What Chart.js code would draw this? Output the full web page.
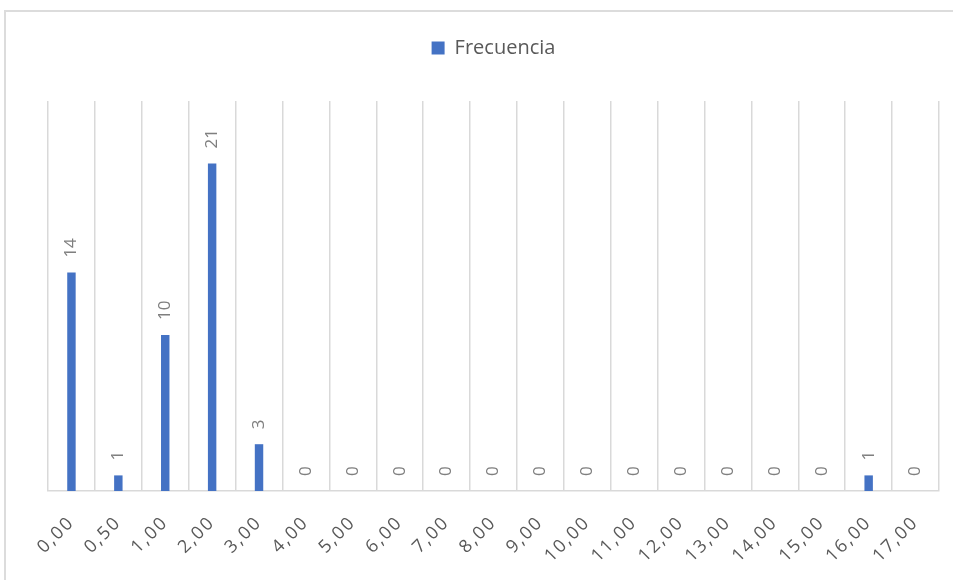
<!DOCTYPE html>
<html>
<head>
<meta charset="utf-8">
<script src="https://cdn.jsdelivr.net/npm/chart.js@4"></script>
<style>
  html, body { margin: 0; padding: 0; background: #fff; overflow: hidden; }
  #wrap { position: relative; width: 953px; height: 580px; overflow: hidden; }
  #frame { position: absolute; left: 4px; top: 10px; width: 1000px; height: 1000px;
           border: 2px solid #dcdcdc; box-sizing: border-box; }
  #mycanvas { position: absolute; left: 0; top: 0; }
</style>
</head>
<body>
<div id="wrap">
  <div id="frame"></div>
  <canvas id="mycanvas" width="953" height="580"></canvas>
</div>
<script>
var categories = ['0,00', '0,50', '1,00', '2,00', '3,00', '4,00', '5,00', '6,00', '7,00', '8,00',
                  '9,00', '10,00', '11,00', '12,00', '13,00', '14,00', '15,00', '16,00', '17,00'];
var frecuencia = [14, 1, 10, 21, 3, 0, 0, 0, 0, 0, 0, 0, 0, 0, 0, 0, 0, 1, 0];
var seriesName = 'Frecuencia';

var FONT = '"Open Sans", "Liberation Sans", sans-serif';

// value labels written vertically above every bar
var barLabels = {
  id: 'barLabels',
  afterDatasetsDraw: function(chart) {
    var ctx = chart.ctx;
    var meta = chart.getDatasetMeta(0);
    ctx.save();
    ctx.fillStyle = '#7f7f7f';
    ctx.font = '17px ' + FONT;
    ctx.textAlign = 'left';
    ctx.textBaseline = 'middle';
    meta.data.forEach(function(bar, i) {
      ctx.save();
      ctx.translate(bar.x, bar.y - 15);
      ctx.rotate(-Math.PI / 2);
      ctx.fillText(String(frecuencia[i]), 0, 0);
      ctx.restore();
    });
    ctx.restore();
  }
};

// extra room between the legend and the plot
var legendGap = {
  id: 'legendGap',
  beforeInit: function(chart) {
    var fit = chart.legend.fit;
    chart.legend.fit = function() {
      fit.bind(chart.legend)();
      this.height += 33;
    };
  },
  // the category labels are drawn a little spaced out
  afterLayout: function(chart) {
    var s = chart.scales.x;
    if (s._spaced) return;
    var drawLabels = s.drawLabels;
    s.drawLabels = function(area) {
      this.ctx.save();
      this.ctx.letterSpacing = '2px';
      drawLabels.call(this, area);
      this.ctx.restore();
    };
    s._spaced = true;
  }
};

var ctx = document.getElementById('mycanvas');

var barGraph = new Chart(ctx, {
  type: 'bar',
  data: {
    labels: categories,
    datasets: [{
      label: seriesName,
      data: frecuencia,
      backgroundColor: '#4472c4',
      borderWidth: 0,
      categoryPercentage: 1,
      barPercentage: 0.18
    }]
  },
  options: {
    responsive: false,
    devicePixelRatio: 1,
    animation: false,
    layout: { padding: { left: 48, right: 14, top: 28, bottom: 0 } },
    plugins: {
      legend: {
        position: 'top',
        labels: {
          boxWidth: 13,
          boxHeight: 13,
          padding: 10,
          color: '#595959',
          font: { family: FONT, size: 20 }
        }
      },
      tooltip: { enabled: false }
    },
    scales: {
      x: {
        grid: { color: '#d9d9d9', lineWidth: 1.5, drawTicks: false },
        border: { color: '#d9d9d9', width: 1.5 },
        ticks: {
          color: '#595959',
          font: { family: FONT, size: 18 },
          minRotation: 45,
          maxRotation: 45,
          padding: 21,
          autoSkip: false
        },
        afterFit: function(scale) {
          scale.height = 89;
          scale.paddingLeft = 0;
          scale.paddingRight = 0;
        }
      },
      y: {
        display: false,
        min: 0,
        max: 25
      }
    }
  },
  plugins: [barLabels, legendGap]
});
</script>
</body>
</html>
